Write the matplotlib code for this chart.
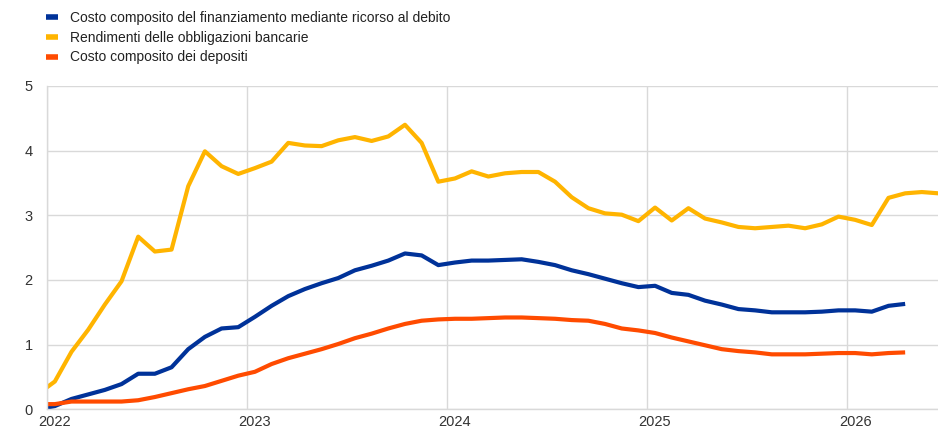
import matplotlib
matplotlib.use("Agg")
import matplotlib.pyplot as plt
from matplotlib.lines import Line2D
import numpy as np

plt.rcParams['font.family'] = ['Liberation Sans', 'DejaVu Sans']

# Monthly data, first value = Dec 2021 (partly clipped at the left edge)
start_year = 2021
start_month = 12

debt_cost = [0.00, 0.05, 0.16, 0.23, 0.30, 0.39, 0.55, 0.55, 0.65, 0.93, 1.12, 1.25, 1.27,
             1.43, 1.60, 1.75, 1.86, 1.95, 2.03, 2.15, 2.22, 2.30, 2.41, 2.38, 2.23,
             2.27, 2.30, 2.30, 2.31, 2.32, 2.28, 2.23, 2.15, 2.09, 2.02, 1.95, 1.89,
             1.91, 1.80, 1.77, 1.68, 1.62, 1.55, 1.53, 1.50, 1.50, 1.50, 1.51, 1.53,
             1.53, 1.51, 1.60, 1.63]
bond_yields = [0.24, 0.43, 0.89, 1.23, 1.62, 1.98, 2.67, 2.44, 2.47, 3.45, 3.99, 3.76, 3.64,
               3.73, 3.83, 4.12, 4.08, 4.07, 4.16, 4.21, 4.15, 4.22, 4.40, 4.12, 3.52,
               3.57, 3.68, 3.60, 3.65, 3.67, 3.67, 3.52, 3.28, 3.11, 3.03, 3.01, 2.91,
               3.12, 2.92, 3.11, 2.95, 2.89, 2.82, 2.80, 2.82, 2.84, 2.80, 2.86, 2.98,
               2.93, 2.85, 3.27, 3.34, 3.36, 3.34]
deposit_cost = [0.08, 0.08, 0.12, 0.12, 0.12, 0.12, 0.14, 0.19, 0.25, 0.31, 0.36, 0.44, 0.52,
                0.58, 0.70, 0.79, 0.86, 0.93, 1.01, 1.10, 1.17, 1.25, 1.32, 1.37, 1.39,
                1.40, 1.40, 1.41, 1.42, 1.42, 1.41, 1.40, 1.38, 1.37, 1.32, 1.25, 1.22,
                1.18, 1.11, 1.05, 0.99, 0.93, 0.90, 0.88, 0.85, 0.85, 0.85, 0.86, 0.87,
                0.87, 0.85, 0.87, 0.88]

labels = ["Costo composito del finanziamento mediante ricorso al debito",
          "Rendimenti delle obbligazioni bancarie",
          "Costo composito dei depositi"]
colors = ["#003299", "#FFB400", "#FF4B00"]
years = [2022, 2023, 2024, 2025, 2026]
yticks = [0, 1, 2, 3, 4, 5]

def xpos(n):
    # month index relative to Jan 2022
    return np.arange(n) + (start_year - 2022) * 12 + (start_month - 1)

fig = plt.figure(figsize=(9.38, 4.32), dpi=100)
ax = fig.add_axes([46.5 / 938, (432 - 409.3) / 432, 1 - 46.5 / 938, (409.3 - 86) / 432])

series = [debt_cost, bond_yields, deposit_cost]
for vals, c in zip(series, colors):
    ax.plot(xpos(len(vals)), vals, color=c, lw=3.0, solid_joinstyle='round',
            solid_capstyle='butt', clip_on=True)

ax.set_xlim(-0.5, 52.97)
ax.set_ylim(0, 5)
ax.set_yticks(yticks)
ax.set_yticklabels([str(v) for v in yticks])
ax.set_xticks([(y - 2022) * 12 for y in years])
ax.set_xticklabels([str(y) for y in years])
ax.set_xticks([(y - 2022) * 12 - 0.5 for y in years], minor=True)
ax.tick_params(axis='both', which='both', length=0, labelsize=10.5, colors='#333333')
ax.tick_params(axis='y', pad=10)
ax.tick_params(axis='x', pad=4)
ax.grid(axis='y', color='#d9d9d9', lw=1.0)
ax.grid(axis='x', which='minor', color='#d9d9d9', lw=1.0)
ax.grid(axis='x', which='major', visible=False)
for s in ['top', 'right']:
    ax.spines[s].set_visible(False)
for s in ['left', 'bottom']:
    ax.spines[s].set_color('#d9d9d9')
    ax.spines[s].set_linewidth(1.0)
ax.set_axisbelow(True)

handles = [Line2D([], [], color=c, lw=4, solid_capstyle='butt') for c in colors]
fig.legend(handles, labels, loc='upper left', bbox_to_anchor=(43 / 938, 1 - 8 / 432),
           frameon=False, fontsize=10.0, handlelength=0.9, handletextpad=0.85,
           labelspacing=0.42, borderaxespad=0, borderpad=0.2, labelcolor='#222222')

fig.savefig("out.png", dpi=100)
